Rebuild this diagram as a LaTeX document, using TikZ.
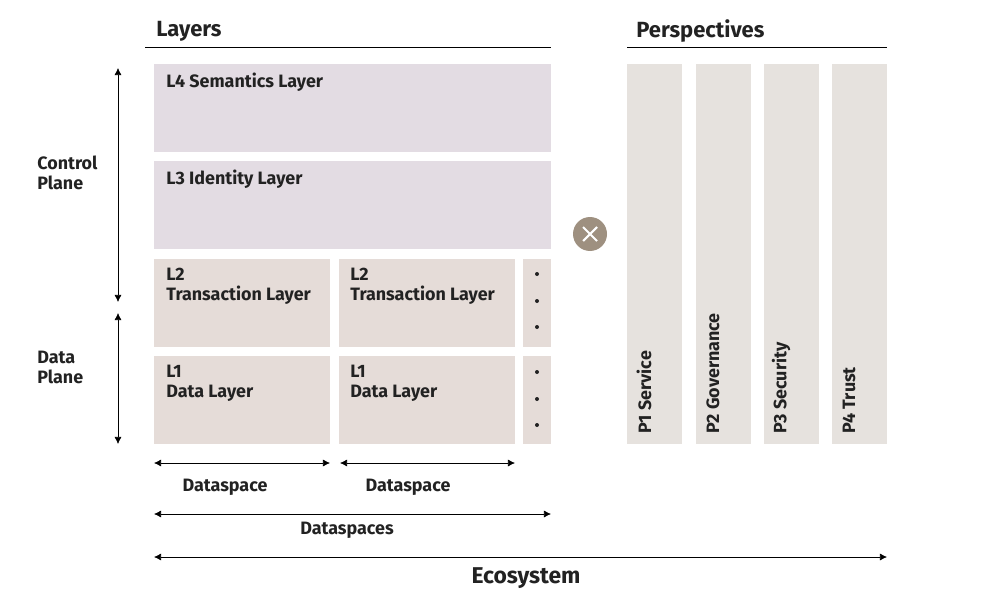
\documentclass[tikz,border=0pt]{standalone}
\usepackage{fontspec}
\setmainfont{Fira Sans}
\usetikzlibrary{arrows.meta}
\definecolor{upper}{HTML}{E3DCE3}
\definecolor{lower}{HTML}{E5DCD8}
\definecolor{persp}{HTML}{E6E2DE}
\definecolor{cross}{HTML}{9E9080}
\definecolor{ink}{HTML}{222222}
\tikzset{
  every node/.style={text=ink},
  lbl/.style={anchor=north west, align=left, font=\bfseries\fontsize{10.2}{11.2}\selectfont, inner sep=0pt},
  plabel/.style={rotate=90, anchor=west, font=\bfseries\fontsize{10.2}{11}\selectfont, inner sep=0pt},
  span/.style={{Latex[length=4pt,width=4pt]}-{Latex[length=4pt,width=4pt]}, thin},
  title/.style={anchor=west, font=\bfseries\fontsize{12.5}{14}\selectfont, inner sep=0pt}
}
\begin{document}
\begin{tikzpicture}[x=0.02cm, y=-0.02cm]
    \useasboundingbox (0,0) rectangle (990,595);

    % layers
    \fill[upper] (154,64) rectangle (551,152);
    \fill[upper] (154,161) rectangle (551,249);
    \fill[lower] (154,259) rectangle (330,347);
    \fill[lower] (339,259) rectangle (515,347);
    \fill[lower] (523,259) rectangle (551,347);
    \fill[lower] (154,356) rectangle (330,444);
    \fill[lower] (339,356) rectangle (515,444);
    \fill[lower] (523,356) rectangle (551,444);
    \node (l4) [lbl] at (166,73) {L4 Semantics Layer};
    \node (l3) [lbl] at (166,170) {L3 Identity Layer};
    \node (l2a) [lbl] at (166,268) {L2\\Transaction Layer};
    \node (l2b) [lbl] at (350,268) {L2\\Transaction Layer};
    \node (l1a) [lbl] at (166,365) {L1\\Data Layer};
    \node (l1b) [lbl] at (350,365) {L1\\Data Layer};
    \foreach \y in {274,301,327,372,399,425}
        \fill[ink] (537,\y) circle (2);

    % perspectives
    \foreach \x/\t [count=\i] in {627/P1 Service,696/P2 Governance,764/P3 Security,832/P4 Trust} {
        \fill[persp] (\x,64) rectangle ++(55,380);
        \node (p\i) [plabel] at (\x+17,434) {\t};
    }

    % cross
    \node (x) [circle, fill=cross, minimum size=0.68cm, inner sep=0pt] at (590,234) {};
    \draw[white, line width=1.2pt] (583,227) -- (597,241) (597,227) -- (583,241);

    % titles
    \node (layers) [title] at (156,31) {Layers};
    \draw[thin] (145,47) -- (551,47);
    \node (persps) [title] at (636,31) {Perspectives};
    \draw[thin] (627,47) -- (887,47);

    % planes
    \coordinate (c1) at (118,68);
    \coordinate (c2) at (118,302);
    \coordinate (d1) at (118,313);
    \coordinate (d2) at (118,444);
    \draw[span] (c1) -- (c2);
    \draw[span] (d1) -- (d2);
    \node (cp) [lbl] at (37,156) {Control\\Plane};
    \node (dp) [lbl] at (37,351) {Data\\Plane};

    % extents
    \coordinate (a1) at (154,463);
    \coordinate (a2) at (330,463);
    \coordinate (b1) at (340,463);
    \coordinate (b2) at (515,463);
    \coordinate (s1) at (154,514);
    \coordinate (s2) at (551,514);
    \coordinate (e1) at (154,557);
    \coordinate (e2) at (887,557);
    \draw[span] (a1) -- (a2);
    \draw[span] (b1) -- (b2);
    \draw[span] (s1) -- (s2);
    \draw[span] (e1) -- (e2);
    \node (ds1) [font=\bfseries\fontsize{10.2}{11}\selectfont] at (225,487) {Dataspace};
    \node (ds2) [font=\bfseries\fontsize{10.2}{11}\selectfont] at (408,487) {Dataspace};
    \node (dss) [font=\bfseries\fontsize{10.2}{11}\selectfont] at (347,530) {Dataspaces};
    \node (eco) [font=\bfseries\fontsize{13}{15}\selectfont] at (526,578) {Ecosystem};
\end{tikzpicture}
\end{document}
